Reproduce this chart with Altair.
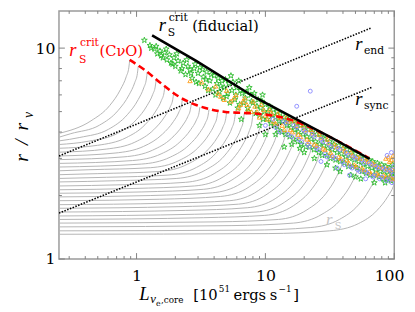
import altair as alt
import pandas as pd

# ---------------- data ----------------
# gray r_S curves (one list per curve): luminosity and radius
curve_L = [
    [0.25, 0.443, 0.620, 0.752, 0.832, 0.872, 0.885],
    [0.25, 0.309, 0.515, 0.721, 0.876, 0.968, 1.015, 1.03],
    [0.25, 0.363, 0.605, 0.847, 1.03, 1.137, 1.192, 1.21],
    [0.25, 0.426, 0.71, 0.994, 1.207, 1.335, 1.399, 1.42],
    [0.25, 0.498, 0.83, 1.162, 1.411, 1.560, 1.635, 1.66],
    [0.25, 0.582, 0.97, 1.358, 1.649, 1.824, 1.911, 1.94],
    [0.25, 0.681, 1.135, 1.589, 1.93, 2.134, 2.236, 2.27],
    [0.25, 0.798, 1.33, 1.862, 2.261, 2.50, 2.62, 2.66],
    [0.25, 0.93, 1.55, 2.17, 2.635, 2.914, 3.054, 3.1],
    [0.25, 1.095, 1.825, 2.555, 3.10, 3.43, 3.595, 3.65],
    [0.25, 0.427, 1.28, 2.135, 2.99, 3.63, 4.01, 4.21, 4.27],
    [0.25, 0.5, 1.5, 2.5, 3.5, 4.25, 4.7, 4.925, 5.0],
    [0.25, 0.585, 1.755, 2.925, 4.095, 4.97, 5.50, 5.76, 5.85],
    [0.25, 0.685, 2.055, 3.425, 4.795, 5.82, 6.44, 6.75, 6.85],
    [0.25, 0.8, 2.4, 4.0, 5.6, 6.8, 7.52, 7.88, 8.0],
    [0.25, 0.94, 2.82, 4.7, 6.58, 7.99, 8.84, 9.26, 9.4],
    [0.25, 1.1, 3.3, 5.5, 7.7, 9.35, 10.34, 10.84, 11.0],
    [0.25, 1.29, 3.87, 6.45, 9.03, 10.97, 12.13, 12.71, 12.9],
    [0.25, 1.5, 4.5, 7.5, 10.5, 12.75, 14.1, 14.78, 15.0],
    [0.25, 1.76, 5.28, 8.8, 12.32, 14.96, 16.54, 17.34, 17.6],
    [0.25, 2.06, 6.18, 10.3, 14.42, 17.5, 19.36, 20.29, 20.6],
    [0.25, 2.41, 7.23, 12.05, 16.87, 20.5, 22.65, 23.74, 24.1],
    [0.25, 2.82, 8.46, 14.1, 19.74, 24.0, 26.5, 27.78, 28.2],
    [0.25, 3.3, 9.9, 16.5, 23.1, 28.05, 31.0, 32.5, 33.0],
    [0.25, 4.2, 12.6, 21.0, 29.4, 35.7, 39.5, 41.4, 42.0],
    [0.25, 5.5, 16.5, 27.5, 38.5, 46.75, 51.7, 54.2, 55.0],
    [0.25, 7.5, 22.5, 37.5, 52.5, 63.75, 70.5, 73.9, 75.0],
    [0.25, 10.5, 31.5, 52.5, 73.5, 89.25, 98.7, 103.4, 105.0],
]
curve_r = [
    [3.94, 4.52, 5.35, 6.38, 7.32, 8.12, 8.8],
    [3.78, 3.93, 4.31, 5.07, 6.01, 6.86, 7.58, 8.2],
    [3.63, 3.77, 4.12, 4.83, 5.70, 6.48, 7.14, 7.7],
    [3.49, 3.62, 3.94, 4.57, 5.34, 6.03, 6.61, 7.1],
    [3.35, 3.46, 3.76, 4.33, 5.03, 5.65, 6.17, 6.6],
    [3.21, 3.32, 3.58, 4.10, 4.72, 5.26, 5.72, 6.1],
    [3.08, 3.18, 3.42, 3.91, 4.48, 4.98, 5.40, 5.75],
    [2.96, 3.05, 3.28, 3.73, 4.27, 4.74, 5.13, 5.45],
    [2.84, 2.93, 3.15, 3.59, 4.11, 4.56, 4.94, 5.25],
    [2.73, 2.82, 3.04, 3.47, 3.98, 4.43, 4.81, 5.12],
    [2.62, 2.65, 2.71, 2.93, 3.36, 3.88, 4.33, 4.71, 5.03],
    [2.51, 2.54, 2.60, 2.82, 3.25, 3.78, 4.25, 4.64, 4.97],
    [2.41, 2.44, 2.50, 2.72, 3.16, 3.70, 4.18, 4.59, 4.93],
    [2.32, 2.35, 2.41, 2.64, 3.08, 3.64, 4.13, 4.55, 4.91],
    [2.22, 2.25, 2.31, 2.54, 2.99, 3.56, 4.07, 4.51, 4.88],
    [2.13, 2.16, 2.22, 2.45, 2.91, 3.49, 4.01, 4.47, 4.85],
    [2.05, 2.08, 2.14, 2.37, 2.82, 3.39, 3.92, 4.37, 4.75],
    [1.97, 2.00, 2.06, 2.28, 2.73, 3.30, 3.82, 4.27, 4.65],
    [1.89, 1.92, 1.98, 2.20, 2.65, 3.22, 3.75, 4.21, 4.6],
    [1.81, 1.84, 1.89, 2.11, 2.55, 3.11, 3.62, 4.07, 4.45],
    [1.74, 1.77, 1.82, 2.03, 2.45, 2.99, 3.48, 3.91, 4.28],
    [1.67, 1.70, 1.75, 1.94, 2.34, 2.85, 3.32, 3.73, 4.08],
    [1.60, 1.63, 1.67, 1.86, 2.24, 2.73, 3.18, 3.57, 3.9],
    [1.54, 1.57, 1.61, 1.79, 2.16, 2.62, 3.04, 3.42, 3.73],
    [1.48, 1.50, 1.54, 1.71, 2.04, 2.46, 2.84, 3.17, 3.45],
    [1.42, 1.44, 1.48, 1.63, 1.92, 2.29, 2.62, 2.91, 3.15],
    [1.36, 1.37, 1.41, 1.54, 1.80, 2.12, 2.40, 2.65, 2.85],
    [1.31, 1.32, 1.36, 1.47, 1.70, 1.98, 2.22, 2.43, 2.6],
]

# critical curves
fid_L = [1.32, 2.9, 8.26, 16.6, 33.3, 64.5]
fid_r = [11.5, 8.7, 5.85, 4.67, 3.73, 2.98]
cno_L = [0.885, 1.15, 1.52, 2.05, 2.9, 3.64, 4.89, 6.58, 8.7, 14.7, 19.7, 33.3, 63.6]
cno_r = [8.79, 7.90, 6.87, 5.98, 5.37, 5.15, 4.98, 4.93, 4.88, 4.63, 4.34, 3.73, 3.01]

# dotted r_end and r_sync
end_L = [0.25, 67.0]
end_r = [3.08, 12.5]
sync_L = [0.25, 67.0]
sync_r = [1.65, 6.52]

# simulation points
green_L = [1.15, 1.27, 1.38, 1.45, 1.52, 1.6, 1.65, 1.72, 1.8, 1.85,
           1.95, 2.0, 2.1, 2.2, 2.3, 2.4, 2.5, 2.6, 2.7, 2.8,
           2.9, 3.0, 3.1, 3.3, 3.4, 3.5, 3.7, 3.9, 4.0, 4.2,
           4.4, 4.6, 4.8, 5.0, 5.2, 5.5, 5.8, 6.0, 6.3, 6.6,
           7.0, 7.3, 7.7, 8.0, 8.4, 8.8, 9.2, 9.6, 10.0, 10.5,
           11, 11.5, 12, 12.5, 13, 13.7, 14.3, 15, 15.8, 16.5,
           17.3, 18, 19, 20, 21, 22, 23, 24.5, 26, 27,
           28.5, 30, 31.5, 33, 35, 37, 39, 41, 43, 45,
           47.5, 50, 53, 56, 59, 62, 65, 68, 72, 76,
           80, 84, 88, 92, 96, 99,
           6.5, 9, 12, 16, 18.5, 24, 30, 38, 46, 55,
           5.4, 6.2, 7.5, 9.5,
           1.3, 1.42, 1.55, 1.7, 1.9, 2.05, 2.25, 2.45, 2.65, 2.85,
           3.05, 3.25, 3.45, 3.6, 3.8, 4.1, 4.3, 4.5, 4.7, 4.9,
           5.1, 5.3, 5.6, 5.9, 6.1, 6.4, 6.8, 7.1, 7.4, 7.8,
           8.2, 8.6, 9.0, 9.4, 9.8, 10.3, 10.8, 11.3, 11.8, 12.3,
           12.8, 13.4, 14, 14.7, 15.4, 16.2, 17, 17.8, 18.7, 19.6,
           20.6, 21.6, 22.7, 23.8, 25, 26.3, 27.6, 29, 30.5, 32,
           34, 36, 38, 40, 42, 44, 46.5, 49, 51.5, 54.5,
           57.5, 60.5, 64, 67, 70, 74, 78, 82, 86, 90,
           94, 97, 99.5, 20, 35, 50, 70, 85, 14, 10]
green_r = [10.9, 10.3, 9.9, 9.4, 9.7, 9.0, 9.5, 8.8, 9.3, 8.5,
           9.0, 8.2, 8.7, 7.8, 8.5, 7.5, 8.2, 7.9, 7.2, 8.0,
           6.9, 7.6, 8.1, 7.3, 6.6, 7.7, 7.0, 6.4, 7.4, 6.8,
           6.2, 7.0, 6.5, 5.9, 6.8, 6.3, 5.7, 6.5, 5.4, 6.1,
           5.8, 5.2, 6.0, 5.5, 4.9, 5.7, 5.2, 4.6, 5.4, 5.0,
           4.4, 5.1, 4.7, 4.1, 4.9, 4.5, 3.9, 4.6, 4.2, 3.7,
           4.4, 4.0, 3.5, 4.2, 3.8, 3.4, 4.0, 3.6, 3.2, 3.8,
           3.45, 3.1, 3.6, 3.3, 2.95, 3.45, 3.15, 2.85, 3.3, 3.0,
           2.75, 3.15, 2.9, 2.6, 3.0, 2.75, 2.5, 2.9, 2.65, 2.45,
           2.8, 2.6, 2.4, 2.7, 2.55, 2.45,
           4.6, 4.3, 3.9, 3.5, 3.35, 3.0, 2.8, 2.6, 2.5, 2.4,
           7.4, 7.0, 6.5, 6.0,
           10.0, 10.2, 9.2, 9.9, 8.4, 9.4, 8.0, 8.8, 7.6, 8.4,
           6.8, 7.9, 7.1, 6.3, 7.5, 6.0, 7.2, 6.6, 5.8, 7.1,
           6.1, 5.5, 6.9, 6.0, 5.2, 6.3, 5.5, 6.2, 5.0, 5.6,
           6.1, 5.3, 4.8, 5.6, 5.0, 4.6, 5.3, 4.8, 4.3, 5.0,
           4.5, 4.0, 4.7, 4.3, 3.8, 4.5, 4.1, 3.6, 4.3, 3.9,
           3.4, 4.1, 3.7, 3.3, 3.9, 3.5, 3.1, 3.7, 3.35, 3.0,
           3.5, 3.2, 2.9, 3.35, 3.05, 2.75, 3.2, 2.95, 2.7, 3.05,
           2.8, 2.55, 2.95, 2.7, 2.5, 2.85, 2.6, 2.4, 2.75, 2.5,
           2.35, 2.8, 2.6, 3.2, 2.7, 2.45, 2.3, 2.3, 3.4, 3.9]
orange_L = [2.6, 3.2, 3.6, 4.1, 4.5, 5.0, 5.4, 5.9, 6.4, 6.9,
            7.4, 8.0, 8.6, 9.3, 10, 10.8, 11.6, 12.5, 13.5, 14.5,
            15.6, 16.8, 18, 19.4, 21, 22.5, 24, 26, 28, 30,
            32, 34.5, 37, 40, 43, 46, 49, 52, 56, 60,
            64, 68, 73, 78, 83, 88, 93, 97, 99, 90, 95,
            4.3, 4.8, 5.7, 6.2, 6.7, 7.2, 7.8, 8.3, 9.0, 9.7,
            10.4, 11.2, 12, 13, 14, 15, 16.2, 17.4, 18.7, 20.2,
            21.8, 23.3, 25, 27, 29, 31, 33, 35.7, 38.5, 41.5,
            44.5, 47.5, 50.5, 54, 58, 62, 66, 70.5, 75.5, 80.5,
            85.5, 91, 96, 98, 92, 86]
orange_r = [7.0, 6.9, 6.4, 6.6, 5.9, 6.3, 5.6, 6.0, 5.4, 5.8,
            5.1, 5.6, 5.0, 5.4, 4.8, 5.1, 4.5, 4.9, 4.3, 4.7,
            4.1, 4.5, 3.9, 4.3, 3.7, 4.1, 3.5, 3.9, 3.35, 3.7,
            3.2, 3.5, 3.05, 3.35, 2.95, 3.2, 2.8, 3.05, 2.7, 2.95,
            2.6, 2.85, 2.55, 2.75, 2.5, 2.7, 2.5, 2.65, 2.4, 3.05, 2.95,
            6.1, 5.7, 5.8, 5.2, 5.6, 5.4, 5.0, 5.3, 4.7, 5.1,
            4.6, 4.9, 4.4, 4.7, 4.1, 4.5, 4.0, 4.3, 3.8, 4.1,
            3.6, 3.95, 3.45, 3.75, 3.3, 3.55, 3.1, 3.4, 3.0, 3.25,
            2.85, 3.1, 2.75, 3.0, 2.65, 2.9, 2.55, 2.8, 2.5, 2.7,
            2.45, 2.65, 2.4, 3.1, 2.9, 3.0]
blue_L = [17.5, 22.3, 10, 11.5, 13, 14.5, 16, 17.5, 19, 20.5,
          22, 24, 26, 28, 30, 32.5, 35, 38, 41, 44,
          47, 50, 54, 58, 62, 66, 70, 75, 80, 85,
          90, 94, 98, 27, 36, 45, 60,
          12, 13.8, 15, 16.6, 18, 19.7, 21.2, 23, 25, 27,
          29, 31, 33.5, 36.5, 39.5, 42.5, 45.5, 48.5, 52, 56,
          60, 64, 68, 72, 77, 82, 87, 92, 96, 99, 95, 88]
blue_r = [5.3, 6.25, 4.3, 4.6, 4.0, 4.4, 3.8, 4.2, 3.6, 4.0,
          3.4, 3.8, 3.3, 3.6, 3.05, 3.4, 3.0, 3.3, 2.8, 3.1,
          2.7, 3.0, 2.6, 2.85, 2.55, 2.8, 2.5, 2.7, 2.45, 2.65,
          2.4, 2.6, 2.5, 2.9, 2.7, 2.5, 2.4,
          4.2, 4.5, 3.9, 4.3, 3.7, 4.1, 3.5, 3.9, 3.35, 3.7,
          3.15, 3.5, 3.05, 3.35, 2.9, 3.2, 2.75, 3.05, 2.65, 2.95,
          2.6, 2.85, 2.45, 2.75, 2.4, 2.7, 2.35, 2.65, 2.3, 2.75, 3.2, 3.1]

x_major = [1, 10, 100]
x_minor = [0.3, 0.4, 0.5, 0.6, 0.7, 0.8, 0.9, 2, 3, 4, 5, 6, 7, 8, 9,
           20, 30, 40, 50, 60, 70, 80, 90]
y_major = [1, 10]
y_minor = [2, 3, 4, 5, 6, 7, 8, 9]

# ---------------- chart ----------------
W, H = 342, 253
SERIF = "DejaVu Serif"
ITAL = "Liberation Serif"

xs = alt.Scale(type="log", domain=[0.25, 100], nice=False)
ys = alt.Scale(type="log", domain=[1, 15], nice=False)
ax_x = alt.Axis(values=x_major, labelExpr="format(datum.value, '~g')", ticks=False,
                domain=False, grid=False, title=None, labelFont=SERIF,
                labelFontSize=16, labelPadding=9, labelColor="black",
                labelFlush=True, labelFlushOffset=10, labelOverlap=False)
ax_y = alt.Axis(values=y_major, labelExpr="format(datum.value, '~g')", ticks=False,
                domain=False, grid=False, title=None, labelFont=SERIF,
                labelFontSize=16, labelPadding=4, labelColor="black",
                labelOverlap=False)

X = alt.X("L:Q", scale=xs, axis=ax_x)
Y = alt.Y("r:Q", scale=ys, axis=ax_y)

rows = []
for i, (Ls, rs) in enumerate(zip(curve_L, curve_r)):
    for j, (L, r) in enumerate(zip(Ls, rs)):
        rows.append({"c": i, "o": j, "L": L, "r": r})
curves_df = pd.DataFrame(rows)

gray = alt.Chart(curves_df).mark_line(
    color="#b4b4b4", strokeWidth=1, interpolate="monotone", clip=True
).encode(x=X, y=Y, detail="c:N", order="o:Q")


def line(Ls, rs, **kw):
    df = pd.DataFrame({"L": Ls, "r": rs, "o": list(range(len(Ls)))})
    return alt.Chart(df).mark_line(clip=True, **kw).encode(x=X, y=Y, order="o:Q")


r_end = line(end_L, end_r, color="black", strokeWidth=1.6, strokeDash=[1.5, 1.5])
r_sync = line(sync_L, sync_r, color="black", strokeWidth=1.6, strokeDash=[1.5, 1.5])
fid = line(fid_L, fid_r, color="black", strokeWidth=2.6)
cno = line(cno_L, cno_r, color="#ff0000", strokeWidth=2.6, strokeDash=[7, 4],
           interpolate="monotone")

STAR = ("M0,-1L0.2245,-0.309L0.951,-0.309L0.363,0.118L0.588,0.809L0,0.382"
        "L-0.588,0.809L-0.363,0.118L-0.951,-0.309L-0.2245,-0.309Z")


def pts(Ls, rs, shape, color, size):
    df = pd.DataFrame({"L": Ls, "r": rs})
    return alt.Chart(df).mark_point(
        shape=shape, color=color, filled=False, size=size, strokeWidth=1,
        opacity=0.95, clip=True
    ).encode(x=X, y=Y)


g_pts = pts(green_L, green_r, STAR, "#2dbb2d", 38)
o_pts = pts(orange_L, orange_r, "triangle-up", "#ffa01e", 20)
b_pts = pts(blue_L, blue_r, "circle", "#8a8aff", 16)


def xticks(vals, pos, length):
    df = pd.DataFrame({"L": vals})
    return alt.Chart(df).mark_rule(color="#808080", strokeWidth=1).encode(
        x=X, y=alt.value(pos), y2=alt.value(pos + length))


def yticks(vals, pos, length):
    df = pd.DataFrame({"r": vals})
    return alt.Chart(df).mark_rule(color="#808080", strokeWidth=1).encode(
        y=Y, x=alt.value(pos), x2=alt.value(pos + length))


tick_layers = [
    xticks(x_major, H, -6), xticks(x_minor, H, -3),
    xticks(x_major, 0, 6), xticks(x_minor, 0, 3),
    yticks(y_major, 0, 6), yticks(y_minor, 0, 3),
    yticks(y_major, W, -6), yticks(y_minor, W, -3),
]


def lab(L, r, s, size, color="black", italic=False, font=SERIF, **kw):
    df = pd.DataFrame({"L": [L], "r": [r], "t": [s]})
    return alt.Chart(df).mark_text(
        align="left", baseline="alphabetic", font=ITAL if italic else font,
        fontSize=size, fontStyle="italic" if italic else "normal", color=color, **kw
    ).encode(x=X, y=Y, text="t:N")


def plab(px, py, s, size, color="black", italic=False, font=SERIF, **kw):
    df = pd.DataFrame({"t": [s]})
    return alt.Chart(df).mark_text(
        font=ITAL if italic else font, fontSize=size,
        fontStyle="italic" if italic else "normal", color=color, **kw
    ).encode(x=alt.value(px), y=alt.value(py), text="t:N")


labels = [
    # fiducial
    lab(1.49, 12.0, "r", 19, italic=True),
    lab(1.78, 13.4, "crit", 11),
    lab(1.75, 11.4, "S", 11),
    lab(2.70, 12.0, "(fiducial)", 15),
    # CnuO
    lab(0.300, 9.18, "r", 19, color="#ff0000", italic=True),
    lab(0.364, 10.2, "crit", 11, color="#ff0000"),
    lab(0.357, 8.51, "S", 11, color="#ff0000"),
    lab(0.515, 9.18, "(CνO)", 15, color="#ff0000"),
    # r_end, r_sync
    lab(49.8, 9.79, "r", 19, italic=True),
    lab(58.2, 9.40, "end", 11),
    lab(49.8, 5.37, "r", 19, italic=True),
    lab(58.2, 5.12, "sync", 11),
    # r_S
    lab(29.5, 1.455, "r", 17, color="#c4c4c4", italic=True),
    lab(34.5, 1.39, "S", 10, color="#c4c4c4"),
]

# axis titles (pixel positions relative to the plot area)
titles = [
    plab(82, 295, "L", 19, italic=True, align="left", baseline="alphabetic"),
    plab(93, 298, "ν", 13, italic=True, align="left", baseline="alphabetic"),
    plab(99, 301, "e", 8, align="left", baseline="alphabetic"),
    plab(104, 298, ",core", 9, align="left", baseline="alphabetic"),
    plab(137, 295, "[10", 15, align="left", baseline="alphabetic"),
    plab(163, 287, "51", 9, align="left", baseline="alphabetic"),
    plab(178, 295, "ergs", 15, align="left", baseline="alphabetic"),
    plab(215, 295, "s", 15, align="left", baseline="alphabetic"),
    plab(224, 287, "−1", 9, align="left", baseline="alphabetic"),
    plab(239, 295, "]", 15, align="left", baseline="alphabetic"),
    plab(-32, 150, "r", 20, italic=True, angle=270, align="center", baseline="alphabetic"),
    plab(-32, 134, "/", 20, italic=True, angle=270, align="center", baseline="alphabetic"),
    plab(-32, 118, "r", 20, italic=True, angle=270, align="center", baseline="alphabetic"),
    plab(-27, 106, "ν", 14, italic=True, angle=270, align="center", baseline="alphabetic"),
]

chart = alt.layer(
    gray, r_end, r_sync, g_pts, o_pts, b_pts, cno, fid, *tick_layers, *labels, *titles
).properties(
    width=W, height=H,
    autosize=alt.AutoSizeParams(type="none"),
    padding={"left": 52, "top": 0, "right": 13, "bottom": 50},
).configure_view(stroke="#9a9a9a", strokeWidth=1.5)

chart.save("out.html", embed_options={"renderer": "svg", "actions": False})
